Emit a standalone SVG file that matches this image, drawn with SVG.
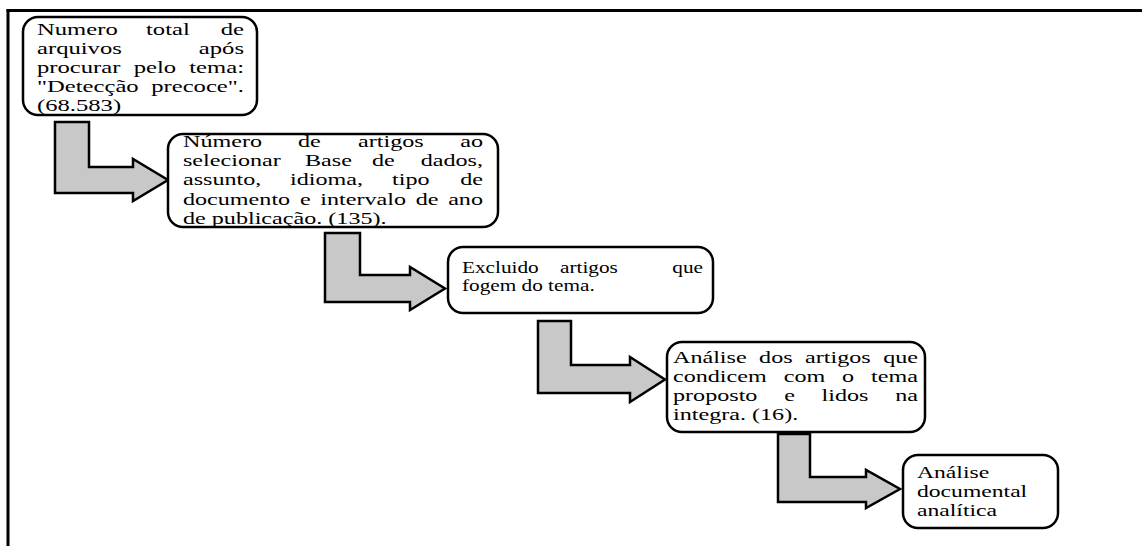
<svg xmlns="http://www.w3.org/2000/svg" width="1142" height="546" viewBox="0 0 1142 546">
<style>
.frame{stroke:#000;stroke-width:3;fill:none}
.box{fill:#fff;stroke:#000;stroke-width:2.5}
.arrow{fill:#c8c8c8;stroke:#000;stroke-width:2.5;stroke-linejoin:miter}
.t{font-family:'Liberation Serif','Times New Roman',serif;font-size:17px;fill:#000}
.e{text-anchor:end}
</style>
<rect width="1142" height="546" fill="#fff"/>
<g id="frame">
<line class="frame" x1="6.5" y1="10.5" x2="1142" y2="10.5"/>
<line class="frame" x1="8" y1="9" x2="8" y2="546"/>
</g>
<g id="connectors">
<path class="arrow" d="M55,122 H89 V167 H133 V159 L168,180 L133,201 V193 H55 Z"/>
<path class="arrow" d="M325,233 H360 V275 H410 V267 L445,288.5 L410,310 V302 H325 Z"/>
<path class="arrow" d="M538,321 H571 V365 H630 V357 L665,379.5 L630,402 V393 H538 Z"/>
<path class="arrow" d="M778,434 H810 V477 H866 V470 L900,489 L866,508 V502 H778 Z"/>
</g>
<g id="node1">
<rect class="box" x="23" y="17" width="234" height="98" rx="15"/>
<g class="t" transform="scale(1.45 1)">
<text y="35"><tspan x="25.52">Numero</tspan><tspan x="100.69">total</tspan></text><text y="35" class="e" x="168.28">de</text>
<text y="54" x="25.52">arquivos</text><text y="54" class="e" x="168.28">após</text>
<text y="73"><tspan x="25.52">procurar</tspan><tspan x="92.21">pelo</tspan></text><text y="73" class="e" x="168.28">tema:</text>
<text y="92" x="25.52">"Detecção</text><text y="92" class="e" x="168.28">precoce".</text>
<text y="111" x="25.52">(68.583)</text>
</g>
</g>
<g id="node2">
<rect class="box" x="168" y="134" width="330" height="93" rx="15"/>
<g class="t" transform="scale(1.42 1)">
<text y="147"><tspan x="128.87">Número</tspan><tspan x="209.86">de</tspan><tspan x="252.11">artigos</tspan></text><text y="147" class="e" x="340.14">ao</text>
<text y="166"><tspan x="128.87">selecionar</tspan><tspan x="214.79">Base</tspan><tspan x="261.97">de</tspan></text><text y="166" class="e" x="340.14">dados,</text>
<text y="185"><tspan x="128.87">assunto,</tspan><tspan x="204.23">idioma,</tspan><tspan x="276.06">tipo</tspan></text><text y="185" class="e" x="340.14">de</text>
<text y="205"><tspan x="128.87">documento</tspan><tspan x="211.27">e</tspan><tspan x="225.56">intervalo</tspan><tspan x="292.75">de</tspan></text><text y="205" class="e" x="340.14">ano</text>
<text y="224" x="128.87">de publicação. (135).</text>
</g>
</g>
<g id="node3">
<rect class="box" x="448" y="247" width="265" height="66" rx="15"/>
<g class="t" transform="scale(1.25 1)">
<text y="273"><tspan x="369.6">Excluido</tspan><tspan x="448">artigos</tspan></text><text y="273" class="e" x="562.4">que</text>
<text y="291" x="369.6">fogem do tema.</text>
</g>
</g>
<g id="node4">
<rect class="box" x="667" y="342" width="258" height="90" rx="15"/>
<g class="t" transform="scale(1.42 1)">
<text y="363"><tspan x="473.94">Análise</tspan><tspan x="534.58">dos</tspan><tspan x="566.90">artigos</tspan></text><text y="363" class="e" x="646.48">que</text>
<text y="382"><tspan x="473.94">condicem</tspan><tspan x="551.90">com</tspan><tspan x="593.03">o</tspan></text><text y="382" class="e" x="646.48">tema</text>
<text y="401"><tspan x="473.94">proposto</tspan><tspan x="552.25">e</tspan><tspan x="578.59">lidos</tspan></text><text y="401" class="e" x="646.48">na</text>
<text y="420" x="473.94">integra. (16).</text>
</g>
</g>
<g id="node5">
<rect class="box" x="903" y="455" width="155" height="73" rx="15"/>
<g class="t" transform="scale(1.39 1)">
<text y="478" x="659.71">Análise</text>
<text y="497" x="659.71">documental</text>
<text y="516" x="659.71">analítica</text>
</g>
</g>
</svg>
